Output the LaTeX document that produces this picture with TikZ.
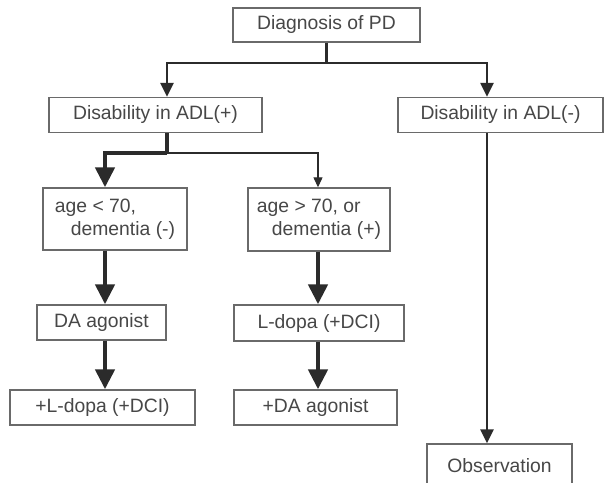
\documentclass[tikz,border=0pt]{standalone}
\usepackage{fontspec}
\setmainfont{Liberation Sans}
\usetikzlibrary{arrows.meta}
\definecolor{linea}{HTML}{2B2B2B}
\definecolor{texto}{HTML}{474747}
\definecolor{borde}{HTML}{6A6A6A}
\begin{document}
\begin{tikzpicture}[x=0.02cm, y=-0.02cm,
  caja/.style={draw=borde, line width=0.8pt, text=texto, inner sep=0pt,
    font=\fontsize{11}{13}\selectfont},
  fina/.style={draw=linea, line width=0.7pt, -{Triangle[length=0.2cm, width=0.18cm]}},
  media/.style={draw=linea, line width=1.4pt},
  gruesa/.style={draw=linea, line width=2.6pt},
  flechamedia/.style={-{Triangle[length=0.28cm, width=0.26cm]}},
  flechagruesa/.style={-{Triangle[length=0.4cm, width=0.38cm]}}]
  \useasboundingbox (0,0) rectangle (608,483);
  \fill[white] (0,0) rectangle (608,483);
  % las cajas, de arriba abajo
  \node[caja, minimum width=3.74cm, minimum height=0.68cm] (diag) at (326.5,25) {Diagnosis of PD};
  \node[caja, minimum width=4.26cm, minimum height=0.7cm] (adlp) at (155.5,115) {Disability in ADL(+)};
  \node[caja, minimum width=4.1cm, minimum height=0.7cm] (adlm) at (500.5,115) {Disability in ADL(-)};
  \node[caja, minimum width=2.88cm, minimum height=1.24cm, align=left] (age1) at (115,219)
    {age < 70,\\\hspace*{0.32cm}dementia (-)};
  \node[caja, minimum width=2.84cm, minimum height=1.26cm, align=left] (age2) at (319,219.5)
    {age > 70, or\\\hspace*{0.3cm}dementia (+)};
  \node[caja, minimum width=2.58cm, minimum height=0.7cm] (da) at (101.5,322.5) {DA agonist};
  \node[caja, minimum width=3.4cm, minimum height=0.72cm] (ldopa) at (319,323) {L-dopa (+DCI)};
  \node[caja, minimum width=3.7cm, minimum height=0.7cm] (masldopa) at (102.5,407.5) {+L-dopa (+DCI)};
  \node[caja, minimum width=3.26cm, minimum height=0.7cm] (masda) at (315.5,407.5) {+DA agonist};
  \node[caja, minimum width=2.9cm, minimum height=0.88cm] (obs) at (499.5,466) {Observation};
  % puntos de giro y columnas de las flechas
  \coordinate (cruce) at (326.5,63);
  \coordinate (rama) at (167,153);
  \coordinate (colL) at (105,0);
  \coordinate (colM) at (318,0);
  \coordinate (colR) at (487,0);
  % las flechas
  \draw[media] (diag) -- (cruce);
  \draw[media, flechamedia] (cruce) -| (adlp.north -| rama);
  \draw[media, flechamedia] (cruce) -| (adlm.north -| colR);
  \draw[gruesa] (adlp.south -| rama) -- (rama);
  \draw[gruesa, flechagruesa] (rama) -| (age1.north -| colL);
  \draw[fina] (rama) -| (age2.north -| colM);
  \draw[gruesa, flechagruesa] (age1.south -| colL) -- (da.north -| colL);
  \draw[gruesa, flechagruesa] (age2.south -| colM) -- (ldopa.north -| colM);
  \draw[gruesa, flechagruesa] (da.south -| colL) -- (masldopa.north -| colL);
  \draw[gruesa, flechagruesa] (ldopa.south -| colM) -- (masda.north -| colM);
  \draw[media, flechamedia] (adlm.south -| colR) -- (obs.north -| colR);
\end{tikzpicture}
\end{document}
